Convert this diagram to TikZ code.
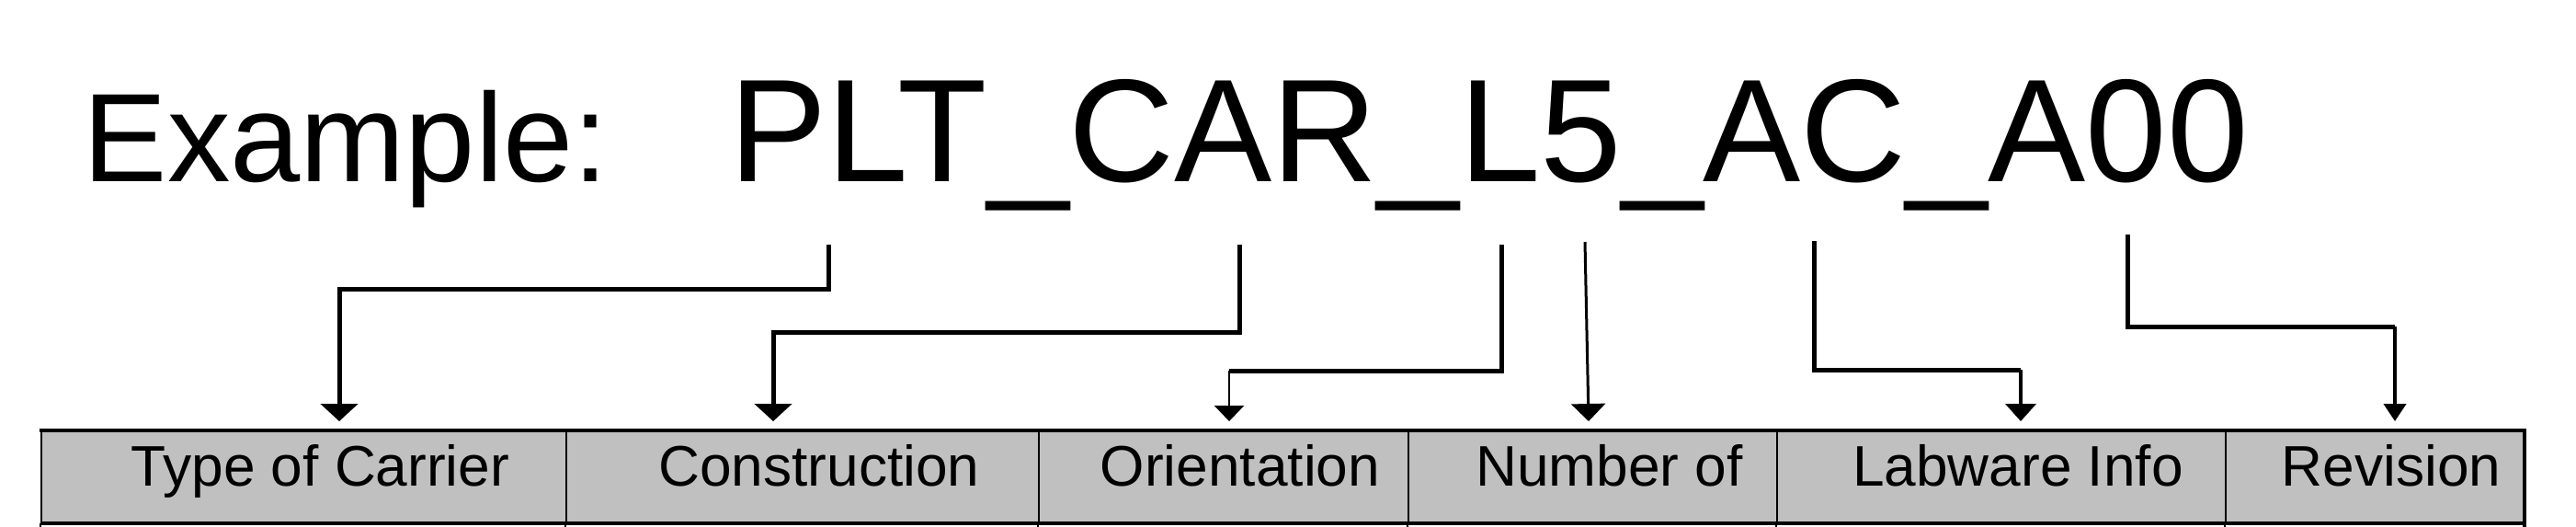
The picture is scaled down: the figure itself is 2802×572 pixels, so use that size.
\documentclass[tikz,border=0pt]{standalone}
\usepackage{fontspec}
\setmainfont{Liberation Sans}
\usetikzlibrary{arrows.meta}
\definecolor{cellgray}{HTML}{C0C0C0}
\begin{document}
\begin{tikzpicture}[x=0.25pt, y=-0.25pt,
  cell/.style={draw=black, line width=0.6pt, fill=cellgray, inner sep=0pt,
    minimum height=24.75pt, text height=10pt, text depth=5.25pt,
    font=\fontsize{15.55pt}{18pt}\selectfont},
  titletext/.style={anchor=base west, inner sep=0pt},
  link/.style={line width=1.25pt},
  thinlink/.style={line width=#1},
  tipA/.style={-{Triangle[width=#1,length=4.75pt]}},
]
\useasboundingbox (0,0) rectangle (2802,572);

% title
\node[titletext, font=\fontsize{34.25pt}{40pt}\selectfont] (ex) at (90,197) {Example:};
\node[titletext, font=\fontsize{39.8pt}{46pt}\selectfont] (code) at (793,197) {PLT\_CAR\_L5\_AC\_A00};

% table cells
\node[cell, minimum width=142.75pt] (c1) at (330.5,518.5) {\hspace*{9pt}Type of Carrier};
\node[cell, minimum width=128.5pt]  (c2) at (873,518.5)   {\hspace*{9pt}Construction};
\node[cell, minimum width=100.5pt]  (c3) at (1331,518.5)  {\hspace*{9pt}Orientation};
\node[cell, minimum width=100.25pt] (c4) at (1732.5,518.5){\hspace*{9pt}Number of};
\node[cell, minimum width=122pt]    (c5) at (2177,518.5)  {\hspace*{9pt}Labware Info};
\node[cell, minimum width=81pt]     (c6) at (2583,518.5)  {\hspace*{9pt}Revision};

% heavier outer borders
\draw[line width=1pt] ([xshift=-0.3pt]c1.north west) -- ([xshift=0.5pt]c6.north east);
\draw[line width=0.8pt] (c1.south west) -- (c6.south east);
\draw[line width=1pt] (c6.north east) -- ([yshift=-1.2pt]c6.south east);
\foreach \n in {1,...,6}
  \draw[line width=0.6pt] (c\n.south west) -- ([yshift=-1.2pt]c\n.south west);

% connector points
\coordinate (s1) at (901,266);  \coordinate (k1) at (369,314);  \coordinate (t1) at (369,458);
\coordinate (s2) at (1348,266); \coordinate (k2) at (841,361);  \coordinate (t2) at (841,458);
\coordinate (s3) at (1633,266); \coordinate (k3) at (1337,403); \coordinate (t3) at (1337,458);
\coordinate (s4) at (1724,263); \coordinate (t4) at (1728,458);
\coordinate (s5) at (1973,262); \coordinate (k5) at (2198,402); \coordinate (t5) at (2198,458);
\coordinate (s6) at (2314,255); \coordinate (k6) at (2605,355); \coordinate (t6) at (2605,458);

% connectors
\draw[link, tipA=10pt] (s1) |- (k1) -- (t1);
\draw[link, tipA=10pt] (s2) |- (k2) -- (t2);
\draw[link] (s3) |- (k3);
\draw[thinlink=0.65pt, -{Triangle[width=8pt,length=4.25pt]}] (k3) -- (t3);
\draw[thinlink=0.75pt, tipA=9.25pt] (s4) -- (t4);
\draw[link] (s5) |- (k5);
\draw[thinlink=1pt, tipA=8.25pt] (k5) -- (t5);
\draw[link] (s6) |- (k6);
\draw[thinlink=1pt, tipA=6pt] (k6) -- (t6);
\end{tikzpicture}
\end{document}
